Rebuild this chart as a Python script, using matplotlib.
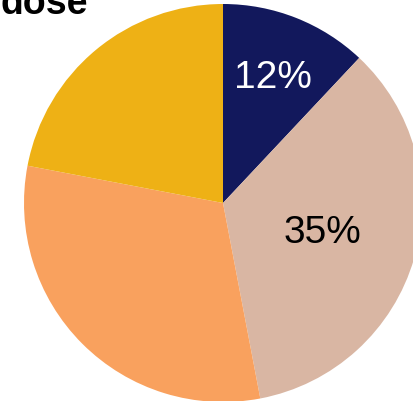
import numpy as np
import matplotlib
matplotlib.use("Agg")
import matplotlib.pyplot as plt

plt.rcParams["font.family"] = ["Liberation Sans", "DejaVu Sans"]

# slice shares (%), clockwise from 12 o'clock
shares = [12, 35, 31, 22]
colors = ["#12185c", "#d9b6a3", "#f9a15e", "#eeb115"]
shown = ["12%", "35%", None, None]
label_colors = ["white", "black", None, None]
label_radius = [0.68, 0.52, None, None]

fig = plt.figure(figsize=(4.13, 4.02), dpi=100)
ax = fig.add_axes([24 / 413, -1 / 402, 398 / 413, 398 / 402])
wedges, _ = ax.pie(shares, colors=colors, startangle=90, counterclock=False,
                   radius=1.0, wedgeprops=dict(linewidth=0))
ax.set_xlim(-1, 1)
ax.set_ylim(-1, 1)

for w, txt, col, r in zip(wedges, shown, label_colors, label_radius):
    if txt is None:
        continue
    mid = np.deg2rad((w.theta1 + w.theta2) / 2)
    ax.text(r * np.cos(mid), r * np.sin(mid), txt, color=col,
            fontsize=28, ha="center", va="center")

fig.text(0.0, 1 - 14 / 402, "dose", fontsize=27, fontweight="bold",
         ha="left", va="baseline")

fig.savefig("out.png", dpi=100)
